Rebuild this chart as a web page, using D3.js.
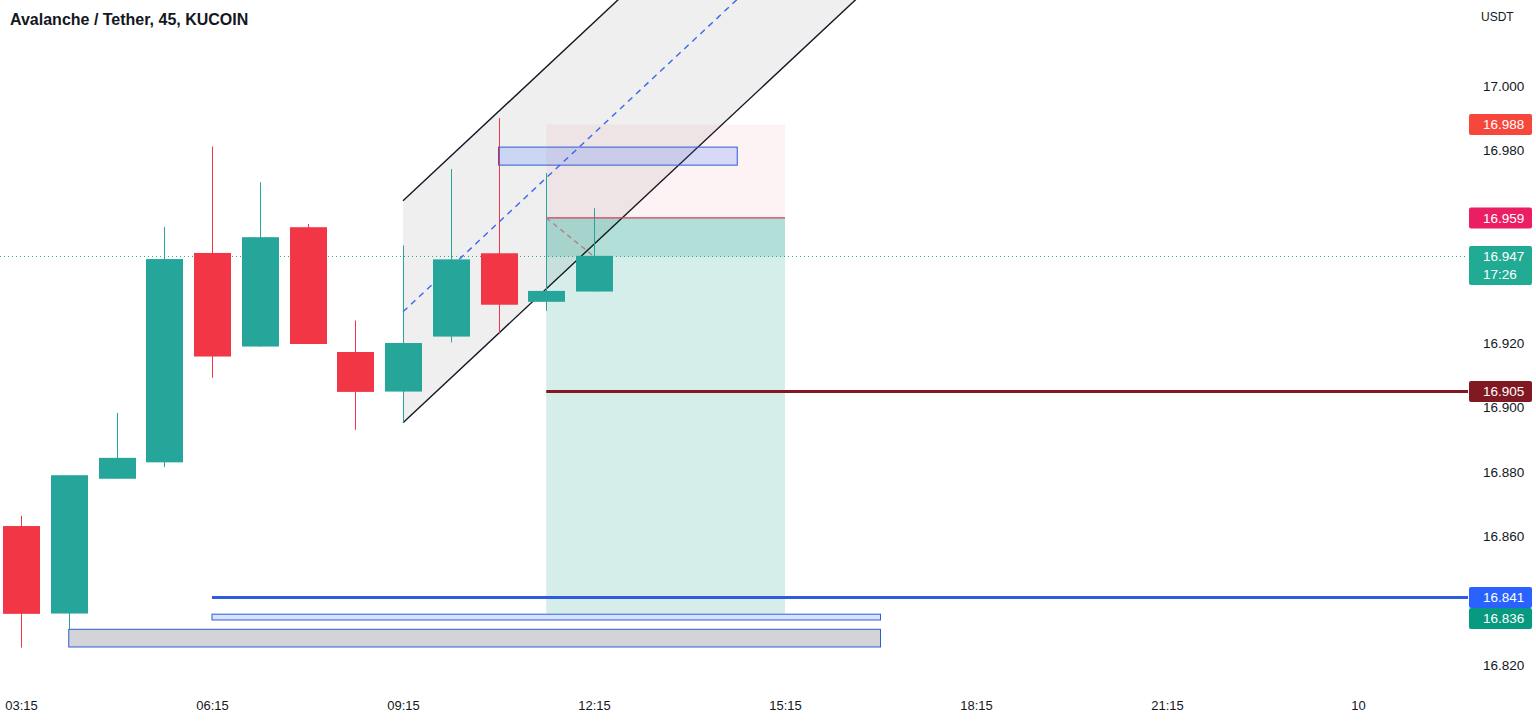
<!DOCTYPE html>
<html>
<head>
<meta charset="utf-8">
<script src="https://cdn.jsdelivr.net/npm/d3@7"></script>
<style>
  html, body { margin: 0; padding: 0; background: #ffffff; overflow: hidden; }
  svg { display: block; font-family: "Liberation Sans", Arial, sans-serif; }
</style>
</head>
<body>
<svg id="chart" width="1536" height="723"></svg>
<script>
// ---------------- data ----------------
const chartTitle = "Avalanche / Tether, 45, KUCOIN";
const currency = "USDT";
const barIndex = [0, 1, 2, 3, 4, 5, 6, 7, 8, 9, 10, 11, 12];
const opens  = [16.8632, 16.8360, 16.8779, 16.8830, 16.9481, 16.9190, 16.9561, 16.9173, 16.9050, 16.9221, 16.9480, 16.9329, 16.9361];
const highs  = [16.8664, 16.8790, 16.8984, 16.9562, 16.9812, 16.9701, 16.9571, 16.9271, 16.9504, 16.9742, 16.9900, 16.9729, 16.9620];
const lows   = [16.8254, 16.8311, 16.8779, 16.8815, 16.9093, 16.9190, 16.9198, 16.8931, 16.8953, 16.9203, 16.9231, 16.9301, 16.9361];
const closes = [16.8359, 16.8790, 16.8844, 16.9462, 16.9159, 16.9530, 16.9198, 16.9049, 16.9201, 16.9461, 16.9320, 16.9363, 16.9472];

const timeTickBars   = [0, 4, 8, 12, 16, 20, 24, 28];
const timeTickLabels = ["03:15", "06:15", "09:15", "12:15", "15:15", "18:15", "21:15", "10"];
const priceTicks = [17.00, 16.98, 16.96, 16.94, 16.92, 16.90, 16.88, 16.86, 16.84, 16.82];

const currentPrice = 16.947;
const countdown = "17:26";

// parallel channel: lower line anchors [bar, price] and channel height
const channelLower = [[8, 16.8953], [12, 16.9508]];
const channelHeight = 0.069;

// short position tool
const positionBars = [11, 16];
const positionStop = 16.988;
const positionEntry = 16.959;
const positionTarget = 16.836;

// horizontal rays [startBar, price]
const darkRedRay = [11, 16.905];
const blueRay = [4, 16.841];

// rectangles [bar0, bar1, priceTop, priceBottom]
const blueBoxTop = [10, 15, 16.9810, 16.9754];
const blueBoxThin = [4, 18, 16.8358, 16.8340];
const greyBox = [1, 18, 16.8311, 16.8256];

// price-axis labels
const axisLabels = [
  { price: 16.988, text: "16.988", color: "#f7473b" },
  { price: 16.959, text: "16.959", color: "#eb1e63" },
  { price: 16.947, text: "16.947", sub: countdown, color: "#22ab94" },
  { price: 16.905, text: "16.905", color: "#801922" },
  { price: 16.841, text: "16.841", color: "#2962ff" },
  { price: 16.836, text: "16.836", color: "#089981" }
];

// ---------------- layout ----------------
const W = 1536, H = 723;
const plotRight = 1468;
const plotBottom = 688;
const upColor = "#26a69a", downColor = "#f23645";

const x = d3.scaleLinear().domain([0, 28]).range([21, 1358]);
const y = d3.scaleLinear().domain([16.82, 17.0]).range([665, 86]);

const svg = d3.select("#chart");
svg.append("defs").append("clipPath").attr("id", "plotClip")
  .append("rect").attr("x", 0).attr("y", 0).attr("width", plotRight).attr("height", plotBottom);

const plot = svg.append("g").attr("clip-path", "url(#plotClip)");

// ---- parallel channel ----
const cSlope = (channelLower[1][1] - channelLower[0][1]) / (channelLower[1][0] - channelLower[0][0]);
const cStart = channelLower[0][0], cEnd = 26;
const lowAt = b => channelLower[0][1] + cSlope * (b - cStart);
const poly = [
  [x(cStart), y(lowAt(cStart))],
  [x(cEnd), y(lowAt(cEnd))],
  [x(cEnd), y(lowAt(cEnd) + channelHeight)],
  [x(cStart), y(lowAt(cStart) + channelHeight)]
];
plot.append("path").attr("d", d3.line()(poly) + "Z")
  .attr("fill", "rgba(120,123,134,0.12)");

// ---- position tool ----
const px0 = x(positionBars[0]), px1 = x(positionBars[1]);
plot.append("rect").attr("x", px0).attr("width", px1 - px0)
  .attr("y", y(positionStop)).attr("height", y(positionEntry) - y(positionStop))
  .attr("fill", "rgba(242,54,69,0.06)");
plot.append("rect").attr("x", px0).attr("width", px1 - px0)
  .attr("y", y(positionEntry)).attr("height", y(positionTarget) - y(positionEntry))
  .attr("fill", "rgba(8,153,129,0.17)");
plot.append("rect").attr("x", px0).attr("width", px1 - px0)
  .attr("y", y(positionEntry)).attr("height", y(currentPrice) - y(positionEntry))
  .attr("fill", "rgba(8,153,129,0.17)");

// channel lines
const lineGen = d3.line();
plot.append("path").attr("d", lineGen([[x(cStart), y(lowAt(cStart))], [x(cEnd), y(lowAt(cEnd))]]))
  .attr("stroke", "#131722").attr("stroke-width", 1.4).attr("fill", "none");
plot.append("path").attr("d", lineGen([[x(cStart), y(lowAt(cStart) + channelHeight)], [x(cEnd), y(lowAt(cEnd) + channelHeight)]]))
  .attr("stroke", "#131722").attr("stroke-width", 1.4).attr("fill", "none");
plot.append("path").attr("d", lineGen([[x(cStart), y(lowAt(cStart) + channelHeight / 2)], [x(cEnd), y(lowAt(cEnd) + channelHeight / 2)]]))
  .attr("stroke", "#3a66f0").attr("stroke-width", 1.4).attr("stroke-dasharray", "6,5").attr("fill", "none");

// rectangles
function box(b, fill) {
  plot.append("rect").attr("x", x(b[0])).attr("width", x(b[1]) - x(b[0]))
    .attr("y", y(b[2])).attr("height", y(b[3]) - y(b[2]))
    .attr("fill", fill).attr("stroke", "#2f5bd6").attr("stroke-width", 1);
}
box(blueBoxTop, "rgba(41,98,255,0.18)");
box(blueBoxThin, "rgba(41,98,255,0.18)");
box(greyBox, "#d3d4d8");

// horizontal rays
plot.append("line").attr("x1", x(blueRay[0])).attr("x2", plotRight)
  .attr("y1", y(blueRay[1])).attr("y2", y(blueRay[1]))
  .attr("stroke", "#2e5be0").attr("stroke-width", 3);
plot.append("line").attr("x1", x(darkRedRay[0])).attr("x2", plotRight)
  .attr("y1", y(darkRedRay[1])).attr("y2", y(darkRedRay[1]))
  .attr("stroke", "#801922").attr("stroke-width", 3);

// current price dotted line
plot.append("line").attr("x1", 0).attr("x2", plotRight)
  .attr("y1", y(currentPrice)).attr("y2", y(currentPrice))
  .attr("stroke", "#22ab94").attr("stroke-width", 1).attr("stroke-dasharray", "1,3");

// ---- candles ----
const candles = barIndex.map(i => ({ i, o: opens[i], h: highs[i], l: lows[i], c: closes[i] }));
const bodyW = 37;
const cg = plot.append("g");
cg.selectAll("line.wick").data(candles).join("line")
  .attr("x1", d => Math.round(x(d.i)) + 0.5).attr("x2", d => Math.round(x(d.i)) + 0.5)
  .attr("y1", d => y(d.h)).attr("y2", d => y(d.l))
  .attr("stroke", d => d.c >= d.o ? upColor : downColor).attr("stroke-width", 1);
cg.selectAll("rect.body").data(candles).join("rect")
  .attr("x", d => Math.round(x(d.i)) + 0.5 - bodyW / 2).attr("width", bodyW)
  .attr("y", d => y(Math.max(d.o, d.c)))
  .attr("height", d => Math.max(1, Math.abs(y(d.o) - y(d.c))))
  .attr("fill", d => d.c >= d.o ? upColor : downColor);

// position entry line + dashed link to current bar
plot.append("line").attr("x1", px0).attr("x2", px1)
  .attr("y1", y(positionEntry)).attr("y2", y(positionEntry))
  .attr("stroke", "#d0405c").attr("stroke-width", 1.3);
plot.append("line").attr("x1", px0).attr("x2", x(barIndex[barIndex.length - 1]))
  .attr("y1", y(positionEntry)).attr("y2", y(currentPrice))
  .attr("stroke", "#b0808a").attr("stroke-width", 1.4).attr("stroke-dasharray", "5,4");

// ---- title ----
svg.append("text").attr("x", 10).attr("y", 25)
  .attr("font-size", 16).attr("font-weight", "bold").attr("fill", "#131722")
  .text(chartTitle);

// ---- price axis ----
const labelH = 21;
const placed = [];
axisLabels.slice().sort((a, b) => y(a.price) - y(b.price)).forEach(l => {
  let cy = y(l.price);
  const prev = placed[placed.length - 1];
  if (prev && cy - labelH / 2 < prev.bottom) cy = prev.bottom + labelH / 2;
  const h = l.sub ? 39 : labelH;
  placed.push({ ...l, cy, top: cy - labelH / 2, bottom: cy - labelH / 2 + h });
});

const visibleTicks = priceTicks.filter(t => {
  const ty = y(t);
  return !placed.some(p => ty >= p.top && ty <= p.bottom);
});

const yAxis = d3.axisRight(y).tickValues(visibleTicks).tickFormat(d3.format(".3f")).tickSize(0).tickPadding(0);
const yg = svg.append("g").attr("transform", `translate(1483,0)`).call(yAxis);
yg.select(".domain").remove();
yg.selectAll("text").attr("font-size", 13.5).attr("fill", "#131722").attr("font-family", "\"Liberation Sans\", Arial, sans-serif");

svg.append("text").attr("x", 1481).attr("y", 21).attr("font-size", 12).attr("fill", "#131722").text(currency);

const lg = svg.append("g");
placed.forEach(p => {
  const h = p.bottom - p.top;
  lg.append("rect").attr("x", 1469).attr("y", p.top).attr("width", 63).attr("height", h)
    .attr("rx", 2).attr("fill", p.color);
  lg.append("text").attr("x", 1483).attr("y", p.cy).attr("dy", "0.35em")
    .attr("font-size", 13.5).attr("fill", "#ffffff").text(p.text);
  if (p.sub) {
    lg.append("text").attr("x", 1483).attr("y", p.cy + 18).attr("dy", "0.35em")
      .attr("font-size", 13.5).attr("fill", "#ffffff").text(p.sub);
  }
});

// ---- time axis ----
const xAxis = d3.axisBottom(x).tickValues(timeTickBars)
  .tickFormat((d, i) => timeTickLabels[i]).tickSize(0).tickPadding(0);
const xg = svg.append("g").attr("transform", "translate(0,701)").call(xAxis);
xg.select(".domain").remove();
xg.selectAll("text").attr("font-size", 13).attr("fill", "#131722").attr("font-family", "\"Liberation Sans\", Arial, sans-serif");
</script>
</body>
</html>
